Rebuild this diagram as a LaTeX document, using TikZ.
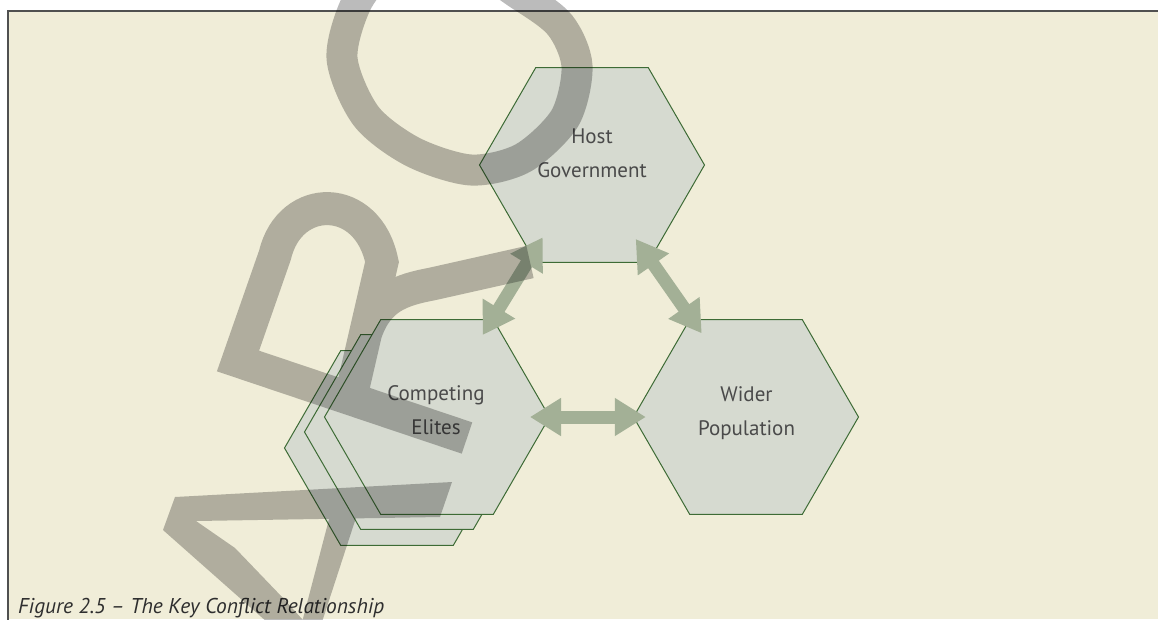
\documentclass[tikz,border=0pt]{standalone}
\usepackage{fontspec}
\setmainfont{PT Sans}
\usetikzlibrary{shapes.geometric,arrows.meta,calc}
\definecolor{cream}{HTML}{F0EDD8}
\definecolor{hexfill}{HTML}{D6DAD0}
\definecolor{hexline}{HTML}{3D6B35}
\definecolor{arrowc}{HTML}{A3B096}
\definecolor{labeltext}{HTML}{4A4A4A}
\definecolor{captext}{HTML}{2E2E2E}
\definecolor{borderc}{HTML}{505050}
\tikzset{
  hexa/.style={regular polygon, regular polygon sides=6, minimum size=225pt,
    inner sep=0pt, outer sep=0pt, draw=hexline, fill=hexfill, line width=1pt},
  lbl/.style={anchor=base, text=labeltext, font=\fontsize{21}{25}\selectfont, inner sep=0pt},
  caption/.style={anchor=base west, text=captext, font=\fontsize{21.4}{25}\selectfont\itshape, inner sep=0pt},
  biarrow/.style={draw=arrowc, line width=13pt,
    {Triangle[length=31pt,width=36pt]}-{Triangle[length=31pt,width=36pt]}},
  wm/.style={black, opacity=0.265},
}
\begin{document}
\begin{tikzpicture}[x=1pt,y=-1pt]
\useasboundingbox (0,0) rectangle (1158,619);
\clip (0,0) rectangle (1158,619);
\fill[white] (0,0) rectangle (1158,619);
\fill[cream] (8,11) rectangle (1158,619);
\draw[borderc, line width=1.2pt] (1160,11) -- (8,11) -- (8,621);

% hexagons
\node[hexa] (elite3) at (397,448) {};
\node[hexa] (elite2) at (417,432) {};
\node[hexa] (elite) at (437,417) {};
\node[hexa] (host) at (592,165) {};
\node[hexa] (wider) at (746,417) {};

% labels
\node[lbl] (hostA) at (592,143) {Host};
\node[lbl] (hostB) at (592,177) {Government};
\node[lbl] (eliteA) at (436,400) {Competing};
\node[lbl] (eliteB) at (436,434) {Elites};
\node[lbl] (widerA) at (746.5,401.7) {Wider};
\node[lbl] (widerB) at (746.5,435) {Population};
\node[caption] (cap) at (18,613) {Figure 2.5 – The Key Conflict Relationship};

% arrows
\coordinate (a1) at ($(host)+(-49.3,72.3)$);
\coordinate (a2) at ($(elite)+(45.7,-82)$);
\coordinate (b1) at ($(host)+(43.7,74)$);
\coordinate (b2) at ($(wider)+(-44.3,-83.7)$);
\coordinate (c1) at ($(elite)+(93,0)$);
\coordinate (c2) at ($(wider)+(-100.2,0)$);
\draw[biarrow] (a1) -- (a2);
\draw[biarrow] (b1) -- (b2);
\draw[biarrow] (c1) -- (c2);

% watermark
\draw[wm, line width=31pt] plot[smooth cycle] coordinates {(342,58) (366,116) (413,152) (471,170) (523,158) (565,118) (577,66) (560,25) (520,-5) (460,-40) (390,-30) (358,0)};
\draw[wm, line width=33pt, line join=miter] (467,438) -- (238,361) -- (275,255) .. controls (290,192) and (368,192) .. (382,262) -- (352,392)
  (366,332) .. controls (378,298) and (400,290) .. (432,284) -- (530,262);
\fill[wm, nonzero rule] (452,482) -- (175,497) -- (163,530) -- (196,521) -- (440,517) -- cycle
  (163,530) -- (276,630) -- (312,630) -- (283,598) -- (235,548) -- (196,521) -- cycle
  (358.5,510) -- (331.4,510) -- (300,630) -- (319.4,630) -- cycle;
\end{tikzpicture}
\end{document}
